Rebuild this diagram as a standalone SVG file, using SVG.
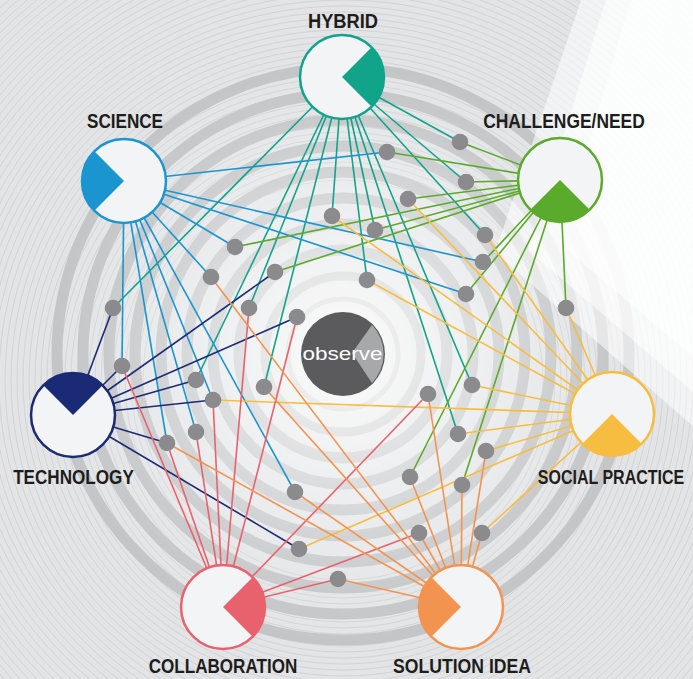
<svg xmlns="http://www.w3.org/2000/svg" width="693" height="679" viewBox="0 0 693 679">
<defs>
<radialGradient id="glow" cx="343" cy="354" r="300" gradientUnits="userSpaceOnUse">
<stop offset="0" stop-color="#ffffff" stop-opacity="0.85"/>
<stop offset="0.35" stop-color="#ffffff" stop-opacity="0.5"/>
<stop offset="0.8" stop-color="#ffffff" stop-opacity="0.1"/>
<stop offset="1" stop-color="#ffffff" stop-opacity="0"/>
</radialGradient>
<style>
.fine{fill:none;stroke:#cbcccf;stroke-width:0.7}
.band{fill:none;stroke:#c3c4c6;stroke-width:11}
.beam{fill:#ffffff;opacity:0.55}
.ln line{stroke-width:1.6;fill:none}
.h{stroke:#12a38b}.s{stroke:#1a95cf}.c{stroke:#5aaa2c}.t{stroke:#1b2a74}.p{stroke:#f7bd40}.l{stroke:#e8626e}.i{stroke:#f29450}
.dot{fill:#8b8b8d}
.nc{fill:#f3f4f6}
.ring{fill:none;stroke-width:2.5}
.lab{font-family:"Liberation Sans",Arial,sans-serif;font-weight:bold;font-size:21px;fill:#1d1d1b;text-anchor:middle}
</style>
</defs>
<rect width="693" height="679" fill="#e3e4e6"/>
<g class="fine">
<circle cx="343" cy="380" r="200"/><circle cx="343" cy="380" r="206"/><circle cx="343" cy="380" r="212"/><circle cx="343" cy="380" r="218"/><circle cx="343" cy="380" r="224"/><circle cx="343" cy="380" r="230"/><circle cx="343" cy="380" r="236"/><circle cx="343" cy="380" r="242"/><circle cx="343" cy="380" r="248"/><circle cx="343" cy="380" r="254"/><circle cx="343" cy="380" r="260"/><circle cx="343" cy="380" r="266"/><circle cx="343" cy="380" r="272"/><circle cx="343" cy="380" r="278"/><circle cx="343" cy="380" r="284"/><circle cx="343" cy="380" r="290"/><circle cx="343" cy="380" r="296"/><circle cx="343" cy="380" r="302"/><circle cx="343" cy="380" r="308"/><circle cx="343" cy="380" r="314"/><circle cx="343" cy="380" r="320"/><circle cx="343" cy="380" r="326"/><circle cx="343" cy="380" r="332"/><circle cx="343" cy="380" r="338"/><circle cx="343" cy="380" r="344"/><circle cx="343" cy="380" r="350"/><circle cx="343" cy="380" r="356"/><circle cx="343" cy="380" r="362"/><circle cx="343" cy="380" r="368"/><circle cx="343" cy="380" r="374"/><circle cx="343" cy="380" r="380"/><circle cx="343" cy="380" r="386"/><circle cx="343" cy="380" r="392"/><circle cx="343" cy="380" r="398"/><circle cx="343" cy="380" r="404"/><circle cx="343" cy="380" r="410"/><circle cx="343" cy="380" r="416"/><circle cx="343" cy="380" r="422"/><circle cx="343" cy="380" r="428"/><circle cx="343" cy="380" r="434"/><circle cx="343" cy="380" r="440"/><circle cx="343" cy="380" r="446"/><circle cx="343" cy="380" r="452"/><circle cx="343" cy="380" r="458"/><circle cx="343" cy="380" r="464"/><circle cx="343" cy="380" r="470"/><circle cx="343" cy="380" r="476"/><circle cx="343" cy="380" r="482"/><circle cx="343" cy="380" r="488"/><circle cx="343" cy="380" r="494"/><circle cx="343" cy="380" r="500"/><circle cx="343" cy="380" r="506"/><circle cx="343" cy="380" r="512"/><circle cx="343" cy="380" r="518"/><circle cx="343" cy="380" r="524"/>
</g>
<g id="rings">
<circle class="band" cx="343" cy="354" r="286"/>
<circle class="band" cx="343" cy="354" r="260"/>
<circle class="band" cx="343" cy="354" r="234"/>
<circle class="band" cx="343" cy="354" r="208"/>
<circle class="band" cx="343" cy="354" r="182"/>
<circle class="band" cx="343" cy="354" r="156"/>
<circle class="band" cx="343" cy="354" r="130"/>
<circle class="band" cx="343" cy="354" r="104"/>
<circle class="band" cx="343" cy="354" r="78" style="stroke-width:9"/>
<circle cx="343" cy="354" r="55" fill="none" stroke="#c6c7c9" stroke-width="5"/>
</g>
<circle cx="343" cy="354" r="300" fill="url(#glow)"/>
<g id="light-beam">
<polygon class="beam" points="588,-20 720,-20 720,450 495,252"/>
<polygon class="beam" points="612,-20 720,-20 720,415 528,250"/>
<polygon class="beam" points="636,-20 720,-20 720,380 560,244"/>
</g>
<g id="connectors" class="ln">
<line class="h" x1="342" y1="77" x2="460" y2="142"/>
<line class="h" x1="342" y1="77" x2="466" y2="182"/>
<line class="h" x1="342" y1="77" x2="375" y2="230"/>
<line class="h" x1="342" y1="77" x2="485" y2="235"/>
<line class="h" x1="342" y1="77" x2="367" y2="280"/>
<line class="h" x1="342" y1="77" x2="472" y2="385"/>
<line class="h" x1="342" y1="77" x2="458" y2="434"/>
<line class="h" x1="342" y1="77" x2="332" y2="216"/>
<line class="h" x1="342" y1="77" x2="249" y2="308"/>
<line class="h" x1="342" y1="77" x2="196" y2="380"/>
<line class="h" x1="342" y1="77" x2="264" y2="387"/>
<line class="h" x1="342" y1="77" x2="113" y2="308"/>
<line class="s" x1="124" y1="181" x2="387" y2="152"/>
<line class="s" x1="124" y1="181" x2="483" y2="262"/>
<line class="s" x1="124" y1="181" x2="466" y2="294"/>
<line class="s" x1="124" y1="181" x2="235" y2="247"/>
<line class="s" x1="124" y1="181" x2="211" y2="277"/>
<line class="s" x1="124" y1="181" x2="122" y2="366"/>
<line class="s" x1="124" y1="181" x2="213" y2="400"/>
<line class="s" x1="124" y1="181" x2="196" y2="432"/>
<line class="s" x1="124" y1="181" x2="167" y2="443"/>
<line class="s" x1="124" y1="181" x2="295" y2="492"/>
<line class="c" x1="560" y1="180" x2="460" y2="142"/>
<line class="c" x1="560" y1="180" x2="387" y2="152"/>
<line class="c" x1="560" y1="180" x2="466" y2="182"/>
<line class="c" x1="560" y1="180" x2="408" y2="199"/>
<line class="c" x1="560" y1="180" x2="375" y2="230"/>
<line class="c" x1="560" y1="180" x2="483" y2="262"/>
<line class="c" x1="560" y1="180" x2="466" y2="294"/>
<line class="c" x1="560" y1="180" x2="566" y2="308"/>
<line class="c" x1="560" y1="180" x2="410" y2="477"/>
<line class="c" x1="560" y1="180" x2="462" y2="485"/>
<line class="c" x1="560" y1="180" x2="235" y2="247"/>
<line class="c" x1="560" y1="180" x2="275" y2="272"/>
<line class="t" x1="73" y1="415" x2="113" y2="308"/>
<line class="t" x1="73" y1="415" x2="122" y2="366"/>
<line class="t" x1="73" y1="415" x2="275" y2="272"/>
<line class="t" x1="73" y1="415" x2="297" y2="317"/>
<line class="t" x1="73" y1="415" x2="196" y2="380"/>
<line class="t" x1="73" y1="415" x2="213" y2="400"/>
<line class="t" x1="73" y1="415" x2="167" y2="443"/>
<line class="t" x1="73" y1="415" x2="299" y2="549"/>
<line class="p" x1="612" y1="414" x2="408" y2="199"/>
<line class="p" x1="612" y1="414" x2="485" y2="235"/>
<line class="p" x1="612" y1="414" x2="367" y2="280"/>
<line class="p" x1="612" y1="414" x2="332" y2="216"/>
<line class="p" x1="612" y1="414" x2="566" y2="308"/>
<line class="p" x1="612" y1="414" x2="472" y2="385"/>
<line class="p" x1="612" y1="414" x2="458" y2="434"/>
<line class="p" x1="612" y1="414" x2="486" y2="451"/>
<line class="p" x1="612" y1="414" x2="482" y2="533"/>
<line class="p" x1="612" y1="414" x2="213" y2="400"/>
<line class="p" x1="612" y1="414" x2="299" y2="549"/>
<line class="l" x1="223" y1="607" x2="122" y2="366"/>
<line class="l" x1="223" y1="607" x2="249" y2="308"/>
<line class="l" x1="223" y1="607" x2="297" y2="317"/>
<line class="l" x1="223" y1="607" x2="213" y2="400"/>
<line class="l" x1="223" y1="607" x2="196" y2="432"/>
<line class="l" x1="223" y1="607" x2="167" y2="443"/>
<line class="l" x1="223" y1="607" x2="338" y2="579"/>
<line class="l" x1="223" y1="607" x2="428" y2="394"/>
<line class="l" x1="223" y1="607" x2="419" y2="533"/>
<line class="i" x1="461" y1="607" x2="428" y2="394"/>
<line class="i" x1="461" y1="607" x2="486" y2="451"/>
<line class="i" x1="461" y1="607" x2="410" y2="477"/>
<line class="i" x1="461" y1="607" x2="462" y2="485"/>
<line class="i" x1="461" y1="607" x2="482" y2="533"/>
<line class="i" x1="461" y1="607" x2="419" y2="533"/>
<line class="i" x1="461" y1="607" x2="211" y2="277"/>
<line class="i" x1="461" y1="607" x2="264" y2="387"/>
<line class="i" x1="461" y1="607" x2="167" y2="443"/>
<line class="i" x1="461" y1="607" x2="295" y2="492"/>
<line class="i" x1="461" y1="607" x2="338" y2="579"/>
</g>
<g id="dots" class="dot">
<circle cx="460" cy="142" r="8.3"/><circle cx="387" cy="152" r="8.3"/><circle cx="466" cy="182" r="8.3"/><circle cx="408" cy="199" r="8.3"/><circle cx="375" cy="230" r="8.3"/><circle cx="485" cy="235" r="8.3"/><circle cx="483" cy="262" r="8.3"/><circle cx="367" cy="280" r="8.3"/><circle cx="466" cy="294" r="8.3"/><circle cx="566" cy="308" r="8.3"/><circle cx="472" cy="385" r="8.3"/><circle cx="428" cy="394" r="8.3"/><circle cx="458" cy="434" r="8.3"/><circle cx="486" cy="451" r="8.3"/><circle cx="410" cy="477" r="8.3"/><circle cx="462" cy="485" r="8.3"/><circle cx="419" cy="533" r="8.3"/><circle cx="482" cy="533" r="8.3"/><circle cx="332" cy="216" r="8.3"/><circle cx="235" cy="247" r="8.3"/><circle cx="211" cy="277" r="8.3"/><circle cx="275" cy="272" r="8.3"/><circle cx="249" cy="308" r="8.3"/><circle cx="297" cy="317" r="8.3"/><circle cx="122" cy="366" r="8.3"/><circle cx="196" cy="380" r="8.3"/><circle cx="213" cy="400" r="8.3"/><circle cx="264" cy="387" r="8.3"/><circle cx="196" cy="432" r="8.3"/><circle cx="167" cy="443" r="8.3"/><circle cx="295" cy="492" r="8.3"/><circle cx="299" cy="549" r="8.3"/><circle cx="338" cy="579" r="8.3"/><circle cx="113" cy="308" r="8.3"/>
</g>
<g id="observe">
<circle cx="343" cy="354" r="42" fill="#5b5b5d"/>
<path d="M352,353 L372,325 A42,42 0 0 1 372,383 Z" fill="#a6a8aa"/>
<text x="342.5" y="360" font-family="'Liberation Sans',Arial,sans-serif" font-size="19" fill="#ffffff" text-anchor="middle" textLength="80" lengthAdjust="spacingAndGlyphs">observe</text>
</g>
<g id="hybrid">
<circle class="nc" cx="342" cy="77" r="42"/>
<path d="M342,77 L371.7,47.3 A42,42 0 0 1 371.7,106.7 Z" fill="#12a38b"/>
<circle class="ring" cx="342" cy="77" r="42" stroke="#12a38b"/>
<text class="lab" transform="translate(343,28) scale(0.87,1)">HYBRID</text>
</g>
<g id="science">
<circle class="nc" cx="124" cy="181" r="42"/>
<path d="M124,181 L94.3,210.7 A42,42 0 0 1 94.3,151.3 Z" fill="#1a95cf"/>
<circle class="ring" cx="124" cy="181" r="42" stroke="#1a95cf"/>
<text class="lab" transform="translate(125,127.5) scale(0.815,1)">SCIENCE</text>
</g>
<g id="challenge">
<circle class="nc" cx="560" cy="180" r="42"/>
<path d="M560,180 L589.7,209.7 A42,42 0 0 1 530.3,209.7 Z" fill="#5aaa2c"/>
<circle class="ring" cx="560" cy="180" r="42" stroke="#5aaa2c"/>
<text class="lab" transform="translate(564,127.5) scale(0.83,1)">CHALLENGE/NEED</text>
</g>
<g id="technology">
<circle class="nc" cx="73" cy="415" r="42"/>
<path d="M73,415 L43.3,385.3 A42,42 0 0 1 102.7,385.3 Z" fill="#1b2a74"/>
<circle class="ring" cx="73" cy="415" r="42" stroke="#1b2a74"/>
<text class="lab" transform="translate(73.5,483.5) scale(0.815,1)">TECHNOLOGY</text>
</g>
<g id="social-practice">
<circle class="nc" cx="612" cy="414" r="42"/>
<path d="M612,414 L641.7,443.7 A42,42 0 0 1 582.3,443.7 Z" fill="#f7bd40"/>
<circle class="ring" cx="612" cy="414" r="42" stroke="#f7bd40"/>
<text class="lab" transform="translate(611,484) scale(0.763,1)">SOCIAL PRACTICE</text>
</g>
<g id="collaboration">
<circle class="nc" cx="223" cy="607" r="42"/>
<path d="M223,607 L252.7,577.3 A42,42 0 0 1 252.7,636.7 Z" fill="#e8626e"/>
<circle class="ring" cx="223" cy="607" r="42" stroke="#e8626e"/>
<text class="lab" transform="translate(223,672.5) scale(0.814,1)">COLLABORATION</text>
</g>
<g id="solution-idea">
<circle class="nc" cx="461" cy="607" r="42"/>
<path d="M461,607 L431.3,636.7 A42,42 0 0 1 431.3,577.3 Z" fill="#f29450"/>
<circle class="ring" cx="461" cy="607" r="42" stroke="#f29450"/>
<text class="lab" transform="translate(462,672.5) scale(0.839,1)">SOLUTION IDEA</text>
</g>
</svg>
